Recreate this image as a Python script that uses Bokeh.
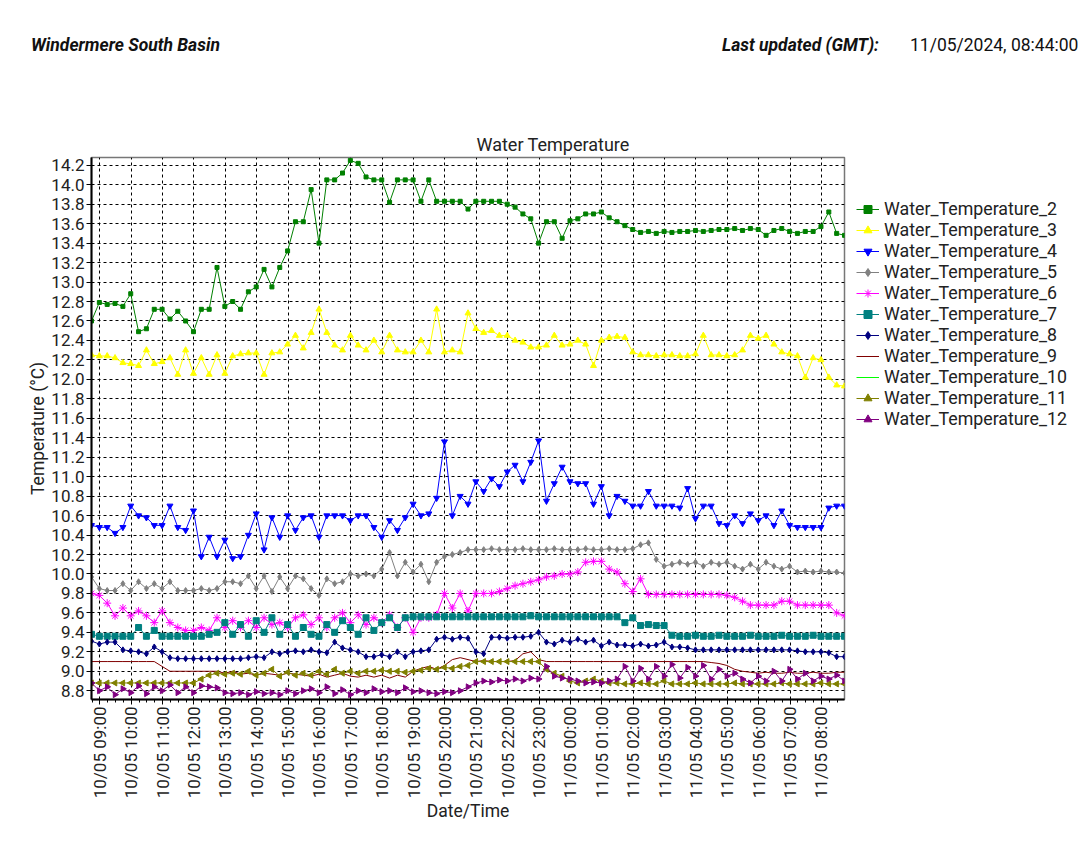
import math
import pandas as pd
from bokeh.plotting import figure
from bokeh.models import (FixedTicker, DatetimeTickFormatter, NumeralTickFormatter,
                          Legend, LegendItem, Div, Range1d)
from bokeh.layouts import column
from bokeh.embed import file_html
from bokeh.resources import INLINE

# ---------------- data ----------------
site = "Windermere South Basin"
updated_label = "Last updated (GMT):"
updated_value = "11/05/2024, 08:44:00"
chart_title = "Water Temperature"

t_start = pd.Timestamp("2024-05-10 08:44")
t_end = pd.Timestamp("2024-05-11 08:44")
times = pd.date_range(t_start, periods=97, freq="15min")

wt2 = [12.60, 12.79, 12.77, 12.78, 12.75, 12.88, 12.49, 12.52, 12.72, 12.72,
       12.62, 12.70, 12.60, 12.49, 12.72, 12.72, 13.15, 12.75, 12.80, 12.72,
       12.90, 12.95, 13.13, 12.95, 13.15, 13.32, 13.62, 13.62, 13.95, 13.40,
       14.05, 14.05, 14.12, 14.25, 14.22, 14.08, 14.05, 14.05, 13.82, 14.05,
       14.05, 14.05, 13.83, 14.05, 13.83, 13.83, 13.83, 13.83, 13.75, 13.83,
       13.83, 13.83, 13.83, 13.80, 13.77, 13.70, 13.65, 13.40, 13.62, 13.62,
       13.45, 13.63, 13.65, 13.70, 13.70, 13.72, 13.66, 13.62, 13.58, 13.54,
       13.51, 13.52, 13.50, 13.52, 13.51, 13.52, 13.52, 13.53, 13.52, 13.53,
       13.54, 13.54, 13.55, 13.53, 13.55, 13.54, 13.48, 13.53, 13.55, 13.52,
       13.50, 13.52, 13.52, 13.57, 13.72, 13.50, 13.48]
wt3 = [12.25, 12.24, 12.24, 12.22, 12.17, 12.16, 12.14, 12.30, 12.16, 12.18,
       12.22, 12.05, 12.30, 12.06, 12.22, 12.05, 12.25, 12.06, 12.24, 12.26,
       12.27, 12.27, 12.05, 12.27, 12.28, 12.36, 12.45, 12.32, 12.48, 12.72,
       12.48, 12.35, 12.30, 12.45, 12.35, 12.30, 12.40, 12.28, 12.45, 12.30,
       12.28, 12.28, 12.40, 12.28, 12.72, 12.28, 12.30, 12.28, 12.68, 12.52,
       12.48, 12.50, 12.45, 12.45, 12.40, 12.38, 12.33, 12.33, 12.35, 12.45,
       12.35, 12.36, 12.40, 12.36, 12.14, 12.40, 12.43, 12.44, 12.43, 12.28,
       12.25, 12.25, 12.24, 12.25, 12.25, 12.24, 12.24, 12.26, 12.45, 12.25,
       12.25, 12.24, 12.25, 12.30, 12.45, 12.42, 12.45, 12.36, 12.28, 12.26,
       12.24, 12.02, 12.22, 12.20, 12.02, 11.94, 11.93]
wt4 = [10.50, 10.48, 10.48, 10.42, 10.48, 10.70, 10.60, 10.58, 10.50, 10.50,
       10.70, 10.48, 10.45, 10.65, 10.18, 10.38, 10.18, 10.35, 10.16, 10.18,
       10.40, 10.62, 10.25, 10.58, 10.38, 10.60, 10.45, 10.58, 10.60, 10.38,
       10.60, 10.60, 10.60, 10.55, 10.60, 10.60, 10.48, 10.38, 10.55, 10.45,
       10.58, 10.72, 10.60, 10.62, 10.78, 11.36, 10.60, 10.80, 10.72, 10.95,
       10.85, 10.98, 10.90, 11.05, 11.12, 10.95, 11.15, 11.37, 10.75, 10.93,
       11.10, 10.95, 10.93, 10.93, 10.72, 10.90, 10.60, 10.80, 10.75, 10.70,
       10.70, 10.85, 10.70, 10.70, 10.70, 10.68, 10.88, 10.57, 10.70, 10.70,
       10.52, 10.50, 10.60, 10.52, 10.62, 10.55, 10.60, 10.50, 10.65, 10.50,
       10.48, 10.48, 10.48, 10.48, 10.68, 10.70, 10.70]
wt5 = [9.97, 9.85, 9.83, 9.83, 9.90, 9.83, 9.92, 9.85, 9.90, 9.85,
       9.92, 9.83, 9.83, 9.83, 9.85, 9.83, 9.85, 9.92, 9.92, 9.90,
       9.98, 9.85, 9.98, 9.82, 9.97, 9.85, 9.98, 9.95, 9.85, 9.78,
       9.95, 9.90, 9.92, 10.00, 9.98, 10.00, 9.98, 10.05, 10.22, 9.98,
       10.12, 10.02, 10.10, 9.92, 10.12, 10.18, 10.20, 10.22, 10.25, 10.25,
       10.25, 10.26, 10.25, 10.25, 10.25, 10.26, 10.25, 10.25, 10.25, 10.26,
       10.25, 10.25, 10.25, 10.26, 10.25, 10.25, 10.26, 10.25, 10.25, 10.26,
       10.30, 10.32, 10.15, 10.08, 10.10, 10.12, 10.10, 10.12, 10.08, 10.12,
       10.10, 10.12, 10.08, 10.05, 10.10, 10.05, 10.12, 10.08, 10.05, 10.08,
       10.02, 10.03, 10.02, 10.03, 10.02, 10.02, 10.01]
wt6 = [9.80, 9.78, 9.70, 9.57, 9.65, 9.57, 9.62, 9.57, 9.50, 9.62,
       9.50, 9.45, 9.42, 9.42, 9.45, 9.42, 9.55, 9.45, 9.52, 9.45,
       9.52, 9.45, 9.55, 9.48, 9.50, 9.45, 9.55, 9.58, 9.48, 9.55,
       9.45, 9.55, 9.60, 9.50, 9.58, 9.48, 9.55, 9.50, 9.58, 9.45,
       9.55, 9.40, 9.55, 9.55, 9.58, 9.80, 9.65, 9.80, 9.62, 9.80,
       9.80, 9.80, 9.82, 9.85, 9.88, 9.90, 9.92, 9.94, 9.97, 9.98,
       10.00, 10.00, 10.02, 10.12, 10.13, 10.13, 10.05, 10.02, 9.90, 9.82,
       9.95, 9.79, 9.79, 9.79, 9.79, 9.79, 9.79, 9.79, 9.79, 9.79,
       9.79, 9.78, 9.76, 9.72, 9.68, 9.68, 9.68, 9.68, 9.72, 9.72,
       9.68, 9.68, 9.68, 9.68, 9.68, 9.60, 9.57]
wt7 = [9.38, 9.36, 9.36, 9.36, 9.36, 9.36, 9.45, 9.36, 9.42, 9.36,
       9.36, 9.36, 9.36, 9.36, 9.36, 9.38, 9.40, 9.50, 9.38, 9.48,
       9.36, 9.52, 9.40, 9.55, 9.38, 9.48, 9.36, 9.45, 9.38, 9.36,
       9.48, 9.40, 9.52, 9.45, 9.38, 9.55, 9.42, 9.50, 9.55, 9.45,
       9.55, 9.56, 9.56, 9.56, 9.56, 9.56, 9.56, 9.56, 9.56, 9.56,
       9.56, 9.56, 9.56, 9.56, 9.56, 9.56, 9.57, 9.56, 9.56, 9.56,
       9.56, 9.56, 9.56, 9.56, 9.56, 9.56, 9.56, 9.56, 9.50, 9.55,
       9.47, 9.48, 9.47, 9.47, 9.37, 9.36, 9.36, 9.37, 9.36, 9.36,
       9.37, 9.36, 9.36, 9.36, 9.37, 9.36, 9.36, 9.36, 9.37, 9.36,
       9.36, 9.36, 9.37, 9.36, 9.36, 9.36, 9.36]
wt8 = [9.31, 9.28, 9.30, 9.30, 9.22, 9.21, 9.20, 9.18, 9.25, 9.20,
       9.14, 9.13, 9.13, 9.13, 9.13, 9.13, 9.13, 9.13, 9.13, 9.13,
       9.14, 9.15, 9.14, 9.20, 9.18, 9.20, 9.21, 9.20, 9.22, 9.20,
       9.19, 9.30, 9.24, 9.22, 9.20, 9.15, 9.15, 9.17, 9.15, 9.20,
       9.15, 9.20, 9.21, 9.22, 9.33, 9.35, 9.33, 9.35, 9.34, 9.20,
       9.18, 9.35, 9.35, 9.34, 9.35, 9.35, 9.36, 9.40, 9.30, 9.28,
       9.32, 9.30, 9.33, 9.30, 9.32, 9.26, 9.30, 9.27, 9.27, 9.26,
       9.28, 9.26, 9.27, 9.30, 9.25, 9.25, 9.24, 9.22, 9.22, 9.22,
       9.22, 9.22, 9.22, 9.22, 9.22, 9.22, 9.22, 9.22, 9.22, 9.22,
       9.21, 9.20, 9.20, 9.20, 9.19, 9.15, 9.15]
wt9 = [9.10, 9.10, 9.10, 9.10, 9.10, 9.10, 9.10, 9.10, 9.10, 9.05,
       9.00, 9.00, 9.00, 9.00, 9.00, 9.00, 9.00, 8.98, 9.00, 8.97,
       8.98, 8.96, 8.98, 8.97, 8.96, 8.98, 8.97, 8.96, 8.95, 8.97,
       8.94, 8.96, 8.98, 8.95, 8.94, 8.96, 8.94, 8.96, 8.93, 8.96,
       8.94, 9.00, 9.03, 9.05, 9.02, 9.06, 9.12, 9.14, 9.12, 9.10,
       9.11, 9.10, 9.10, 9.10, 9.11, 9.18, 9.20, 9.12, 9.10, 9.10,
       9.10, 9.10, 9.10, 9.10, 9.10, 9.10, 9.10, 9.10, 9.10, 9.10,
       9.10, 9.10, 9.10, 9.10, 9.10, 9.10, 9.10, 9.10, 9.10, 9.09,
       9.08, 9.06, 9.02, 9.00, 8.99, 8.98, 8.99, 8.98, 8.98, 8.99,
       8.98, 8.98, 8.99, 8.98, 8.98, 8.99, 8.99]
wt10 = []  # no readings shown for this sensor
wt11 = [8.88, 8.88, 8.88, 8.88, 8.88, 8.88, 8.88, 8.88, 8.88, 8.88,
        8.88, 8.88, 8.88, 8.88, 8.92, 8.96, 8.98, 8.97, 8.98, 8.97,
        9.00, 8.96, 8.98, 9.02, 8.95, 8.99, 8.96, 8.98, 8.96, 9.00,
        8.97, 9.02, 8.98, 9.00, 8.98, 9.00, 9.00, 9.01, 9.00, 9.00,
        8.99, 9.00, 9.01, 9.03, 9.02, 9.04, 9.03, 9.05, 9.06, 9.10,
        9.10, 9.10, 9.10, 9.10, 9.10, 9.10, 9.10, 9.10, 9.02, 8.98,
        8.95, 8.90, 8.88, 8.90, 8.92, 8.90, 8.88, 8.88, 8.87, 8.87,
        8.88, 8.87, 8.87, 8.90, 8.87, 8.87, 8.87, 8.88, 8.87, 8.87,
        8.87, 8.87, 8.88, 8.87, 8.87, 8.87, 8.87, 8.87, 8.88, 8.87,
        8.87, 8.87, 8.87, 8.88, 8.87, 8.87, 8.87]
wt12 = [8.88, 8.80, 8.84, 8.76, 8.82, 8.78, 8.85, 8.77, 8.84, 8.80,
        8.86, 8.78, 8.84, 8.78, 8.85, 8.84, 8.83, 8.78, 8.77, 8.78,
        8.76, 8.79, 8.77, 8.78, 8.76, 8.80, 8.77, 8.80, 8.82, 8.78,
        8.84, 8.77, 8.81, 8.76, 8.80, 8.78, 8.82, 8.79, 8.80, 8.78,
        8.83, 8.79, 8.80, 8.78, 8.77, 8.79, 8.78, 8.80, 8.84, 8.88,
        8.90, 8.89, 8.91, 8.90, 8.92, 8.90, 8.93, 8.92, 9.05, 8.95,
        8.93, 8.92, 8.90, 8.88, 8.89, 8.88, 8.90, 8.92, 9.05, 8.90,
        9.03, 8.92, 9.05, 8.95, 9.07, 8.93, 9.04, 8.95, 9.06, 8.92,
        9.02, 8.95, 8.98, 8.92, 8.88, 8.95, 8.90, 9.00, 8.90, 9.02,
        8.92, 8.98, 8.90, 8.95, 8.92, 8.96, 8.90]

series_names = ["Water_Temperature_2", "Water_Temperature_3", "Water_Temperature_4",
                "Water_Temperature_5", "Water_Temperature_6", "Water_Temperature_7",
                "Water_Temperature_8", "Water_Temperature_9", "Water_Temperature_10",
                "Water_Temperature_11", "Water_Temperature_12"]
series_values = [wt2, wt3, wt4, wt5, wt6, wt7, wt8, wt9, wt10, wt11, wt12]

y_ticks = [8.8, 9.0, 9.2, 9.4, 9.6, 9.8, 10.0, 10.2, 10.4, 10.6, 10.8, 11.0, 11.2, 11.4,
           11.6, 11.8, 12.0, 12.2, 12.4, 12.6, 12.8, 13.0, 13.2, 13.4, 13.6, 13.8, 14.0, 14.2]

# ---------------- styles ----------------
colors = ["#008000", "#FFFF00", "#0000FF", "#808080", "#FF00FF", "#008080",
          "#000080", "#800000", "#00FF00", "#808000", "#800080"]
markers = ["square", "triangle", "inverted_triangle", "diamond", "asterisk", "square",
           "diamond", None, None, "triangle", "triangle"]
msizes = [4, 6, 6, 6, 8, 6, 6, 0, 0, 6, 6]
angles = [0, 0, 0, 0, 0, 0, 0, 0, 0, math.pi / 2, -math.pi / 2]
FONT = "Roboto"

hour_ticks = pd.date_range("2024-05-10 09:00", "2024-05-11 08:00", freq="1h")
minor = pd.date_range(t_start.ceil("15min"), t_end, freq="15min")
to_ms = lambda idx: [int(t.value // 10**6) for t in idx]

p = figure(x_axis_type="datetime",
           x_range=Range1d(t_start, t_end), y_range=Range1d(8.71, 14.28),
           frame_width=753, frame_height=542,
           min_border_left=91, min_border_top=47, min_border_bottom=8, min_border_right=0,
           output_backend="svg", toolbar_location=None, title=chart_title)

p.title.text_font = FONT
p.title.text_font_size = "18px"
p.title.text_font_style = "normal"
p.title.text_color = "#222222"
p.title.align = "left"
p.title.offset = 385
p.title.standoff = 6

p.background_fill_color = "white"
p.border_fill_color = "white"
p.outline_line_color = "#777777"
p.outline_line_width = 1.5

p.xaxis.ticker = FixedTicker(ticks=to_ms(hour_ticks), minor_ticks=to_ms(minor))
fmt = "%d/%m %H:%M"
p.xaxis.formatter = DatetimeTickFormatter(milliseconds=fmt, seconds=fmt, minsec=fmt, minutes=fmt,
                                          hourmin=fmt, hours=fmt, days=fmt, months=fmt, years=fmt)
p.xaxis.major_label_orientation = math.pi / 2
p.yaxis.ticker = FixedTicker(ticks=y_ticks)
p.yaxis.formatter = NumeralTickFormatter(format="0.0")

for ax in (p.xaxis, p.yaxis):
    ax.axis_line_color = "black"
    ax.axis_line_width = 2
    ax.major_tick_line_color = "black"
    ax.major_tick_out = 5
    ax.major_tick_in = 0
    ax.minor_tick_line_color = "black"
    ax.minor_tick_out = 3
    ax.minor_tick_in = 0
    ax.major_label_text_font = FONT
    ax.major_label_text_font_size = "17px"
    ax.major_label_text_color = "#222222"
    ax.major_label_standoff = 2
    ax.axis_label_text_font = FONT
    ax.axis_label_text_font_size = "17.5px"
    ax.axis_label_text_font_style = "normal"
    ax.axis_label_text_color = "#222222"
    ax.axis_label_standoff = 0

p.xaxis.axis_label = "Date/Time"
p.yaxis.axis_label = "Temperature (°C)"

for g in (p.xgrid, p.ygrid):
    g.grid_line_color = "black"
    g.grid_line_dash = "3 3"
    g.grid_line_width = 1
    g.grid_line_alpha = 1.0
p.xgrid.ticker = p.xaxis.ticker
p.ygrid.ticker = p.yaxis.ticker

items = []
for name, vals, c, m, s, a in zip(series_names, series_values, colors, markers, msizes, angles):
    if vals:
        xs, ys = list(times[:len(vals)]), vals
    else:
        # sensor without readings: a renderer holding one missing value keeps its legend entry
        xs, ys = [t_start], [float("nan")]
    rends = [p.line(xs, ys, line_color=c, line_width=1)]
    if m is not None:
        rends.append(p.scatter(xs, ys, marker=m, size=s, angle=a,
                               fill_color=c, line_color=c, line_width=1))
    items.append(LegendItem(label=name, renderers=rends))

legend = Legend(items=items, location=(12, 270))
legend.border_line_color = None
legend.background_fill_alpha = 0
legend.padding = 0
legend.margin = 0
legend.spacing = 0
legend.glyph_width = 23
legend.glyph_height = 20
legend.label_height = 20
legend.label_standoff = 5
legend.label_text_font = FONT
legend.label_text_font_size = "17.8px"
legend.label_text_color = "#222222"
p.add_layout(legend, "right")

header = Div(text=f"""
<div style="position:relative;width:1060px;height:100px;font-family:Roboto;font-size:17.5px;color:#111;white-space:nowrap;">
<span style="position:absolute;left:26px;top:28px;font-weight:bold;font-style:italic;white-space:nowrap;">{site}</span>
<span style="position:absolute;left:717px;top:28px;font-weight:bold;font-style:italic;white-space:nowrap;">{updated_label}</span>
<span style="position:absolute;left:905px;top:28px;white-space:nowrap;">{updated_value}</span>
</div>""", width=1060, height=100)

layout = column(header, p)
open("out.html", "w").write(file_html(layout, INLINE))
